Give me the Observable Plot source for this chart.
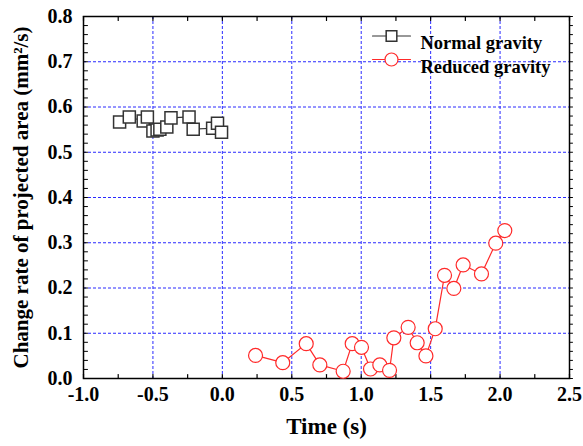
<!DOCTYPE html>
<html><head><meta charset="utf-8">
<script src="https://cdn.jsdelivr.net/npm/d3@7"></script>
<script src="https://cdn.jsdelivr.net/npm/@observablehq/plot@0.6"></script>
<style>
body{margin:0;background:#fff;}
#chart svg{font-family:"Liberation Serif","Times New Roman",serif;}
</style>
</head><body><div id="chart"></div>
<script>
// Normal gravity (squares)
const normalTime = [-0.74, -0.67, -0.57, -0.54, -0.50, -0.47, -0.45, -0.40, -0.37, -0.24, -0.21, -0.07, -0.035, -0.006];
const normalRate = [0.567, 0.578, 0.569, 0.578, 0.547, 0.549, 0.551, 0.556, 0.576, 0.578, 0.551, 0.553, 0.564, 0.544];
// Reduced gravity (circles)
const reducedTime = [0.239, 0.435, 0.604, 0.702, 0.870, 0.935, 1.002, 1.067, 1.134, 1.204, 1.235, 1.338, 1.403, 1.466, 1.533, 1.600, 1.667, 1.734, 1.866, 1.969, 2.034];
const reducedRate = [0.051, 0.035, 0.077, 0.030, 0.016, 0.077, 0.069, 0.021, 0.030, 0.018, 0.090, 0.113, 0.079, 0.050, 0.110, 0.228, 0.199, 0.251, 0.231, 0.299, 0.327];

const xTicks = [-1.0, -0.5, 0.0, 0.5, 1.0, 1.5, 2.0, 2.5];
const yTicks = [0.0, 0.1, 0.2, 0.3, 0.4, 0.5, 0.6, 0.7, 0.8];
const xGrid = [-0.5, 0.0, 0.5, 1.0, 1.5, 2.0];
const yGrid = [0.1, 0.2, 0.3, 0.4, 0.5, 0.6, 0.7];
const xMinor = [-1.0, -0.75, -0.5, -0.25, 0.0, 0.25, 0.5, 0.75, 1.0, 1.25, 1.5, 1.75, 2.0, 2.25, 2.5];
const yMinor = [0.0,0.02,0.04,0.06,0.08,0.1,0.12,0.14,0.16,0.18,0.2,0.22,0.24,0.26,0.28,0.3,0.32,0.34,0.36,0.38,0.4,0.42,0.44,0.46,0.48,0.5,0.52,0.54,0.56,0.58,0.6,0.62,0.64,0.66,0.68,0.7,0.72,0.74,0.76,0.78,0.8];

const seriesNames = ["Normal gravity", "Reduced gravity"];
const xLabel = "Time (s)";
const yLabel = "Change rate of projected area (mm\u00B2/s)";

const normal = normalTime.map((t, i) => ({t, v: normalRate[i]}));
const reduced = reducedTime.map((t, i) => ({t, v: reducedRate[i]}));

const tickShape = {draw(ctx, l) { ctx.moveTo(0, 0); ctx.lineTo(0, -l); }};

const gridColor = "#2a2aff";
const normalColor = "#333333";
const redColor = "#ff2a2a";
const bold = {fontWeight: "bold", fill: "black"};

const chart = Plot.plot({
  width: 583,
  height: 446,
  marginLeft: 83,
  marginRight: 14,
  marginTop: 16,
  marginBottom: 68,
  x: {domain: [-1, 2.5]},
  y: {domain: [0, 0.8]},
  marks: [
    Plot.ruleX(xGrid, {x: d => d, stroke: gridColor, strokeDasharray: "3,2", strokeWidth: 1}),
    Plot.ruleY(yGrid, {y: d => d, stroke: gridColor, strokeDasharray: "3,2", strokeWidth: 1}),
    Plot.frame({stroke: "black", strokeWidth: 1.5}),
    // inward ticks bottom/top/left, outward right
    Plot.vector(xMinor, {x: d => d, frameAnchor: "bottom", length: 4, rotate: 0, anchor: "start", shape: tickShape, stroke: "black", strokeWidth: 1.2}),
    Plot.vector(xMinor, {x: d => d, frameAnchor: "top", length: 4, rotate: 180, anchor: "start", shape: tickShape, stroke: "black", strokeWidth: 1.2}),
    Plot.vector(yMinor, {y: d => d, frameAnchor: "left", length: 4, rotate: 90, anchor: "start", shape: tickShape, stroke: "black", strokeWidth: 1}),
    Plot.vector(yMinor, {y: d => d, frameAnchor: "right", length: 3, rotate: 90, anchor: "start", shape: tickShape, stroke: "black", strokeWidth: 1}),
    Plot.axisX({ticks: xTicks, tickSize: 0, tickPadding: 8, tickFormat: d => d.toFixed(1), fontSize: 20, fontWeight: "bold", label: null}),
    Plot.axisY({ticks: yTicks, tickSize: 0, tickPadding: 11, tickFormat: d => d.toFixed(1), fontSize: 20, fontWeight: "bold", label: null}),
    Plot.text([xLabel], {frameAnchor: "bottom", dy: 55, fontSize: 23, ...bold}),
    Plot.text([yLabel], {frameAnchor: "left", dx: -62, rotate: -90, textAnchor: "middle", fontSize: 21, ...bold}),
    // data
    Plot.line(normal, {x: "t", y: "v", stroke: normalColor, strokeWidth: 1.2}),
    Plot.dot(normal, {x: "t", y: "v", symbol: "square", r: 6.8, fill: "white", stroke: normalColor, strokeWidth: 1.5}),
    Plot.line(reduced, {x: "t", y: "v", stroke: redColor, strokeWidth: 1.2}),
    Plot.dot(reduced, {x: "t", y: "v", r: 7, fill: "white", stroke: redColor, strokeWidth: 1.2}),
    // legend
    Plot.vector([seriesNames[0]], {frameAnchor: "top-left", dx: 308, dy: 19.5, length: 38, rotate: 90, anchor: "middle", shape: tickShape, stroke: normalColor, strokeWidth: 1.2}),
    Plot.dot([seriesNames[0]], {frameAnchor: "top-left", dx: 308, dy: 19.5, symbol: "square", r: 6, fill: "white", stroke: normalColor, strokeWidth: 1.5}),
    Plot.text([seriesNames[0]], {frameAnchor: "top-left", dx: 337, dy: 19.5, text: d => d, textAnchor: "start", fontSize: 18.5, ...bold}),
    Plot.vector([seriesNames[1]], {frameAnchor: "top-left", dx: 308, dy: 43, length: 38, rotate: 90, anchor: "middle", shape: tickShape, stroke: redColor, strokeWidth: 1.2}),
    Plot.dot([seriesNames[1]], {frameAnchor: "top-left", dx: 308, dy: 43, r: 6.5, fill: "white", stroke: redColor, strokeWidth: 1.2}),
    Plot.text([seriesNames[1]], {frameAnchor: "top-left", dx: 337, dy: 43, text: d => d, textAnchor: "start", fontSize: 18.5, ...bold})
  ]
});
document.getElementById("chart").appendChild(chart);
</script>
</body></html>
